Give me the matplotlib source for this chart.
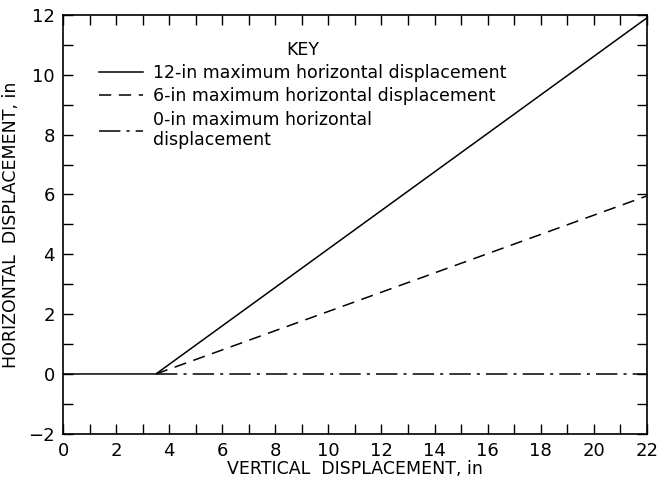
import matplotlib.pyplot as plt
from matplotlib.ticker import MultipleLocator

# data
x_12in = [0, 3.5, 22]
y_12in = [0, 0, 11.9]
x_6in = [3.5, 22]
y_6in = [0, 5.95]
x_0in = [3.5, 22]
y_0in = [0, 0]

labels = ['12-in maximum horizontal displacement',
          '6-in maximum horizontal displacement',
          '0-in maximum horizontal\ndisplacement']


def main():
    fig = plt.figure(figsize=(6.71, 4.82), dpi=100)
    ax = fig.add_axes([0.094, 0.100, 0.870, 0.869])

    ax.plot(x_12in, y_12in, color='black', lw=1.1, ls='-', label=labels[0])
    ax.plot(x_6in, y_6in, color='black', lw=1.1, ls=(0, (8, 5)), label=labels[1])
    ax.plot(x_0in, y_0in, color='black', lw=1.1, ls=(0, (14, 4, 2, 4)), label=labels[2])

    ax.set_xlim(0, 22)
    ax.set_ylim(-2, 12)
    ax.xaxis.set_major_locator(MultipleLocator(2))
    ax.xaxis.set_minor_locator(MultipleLocator(1))
    ax.yaxis.set_major_locator(MultipleLocator(2))
    ax.yaxis.set_minor_locator(MultipleLocator(1))
    ax.tick_params(which='both', direction='in', top=True, right=True,
                   labelsize=13, width=1, pad=6, length=7)
    for s in ax.spines.values():
        s.set_linewidth(1.2)

    ax.set_xlabel('VERTICAL  DISPLACEMENT, in', fontsize=12.5, labelpad=0)
    ax.set_ylabel('HORIZONTAL  DISPLACEMENT, in', fontsize=12.5, labelpad=6)

    ax.legend(loc='upper left', bbox_to_anchor=(0.035, 0.975), frameon=False,
              title='KEY', fontsize=12.5, title_fontsize=12.5,
              handlelength=2.5, handletextpad=0.6, labelspacing=0.3)

    plt.savefig('out.png', dpi=100)


if __name__ == '__main__':
    main()
